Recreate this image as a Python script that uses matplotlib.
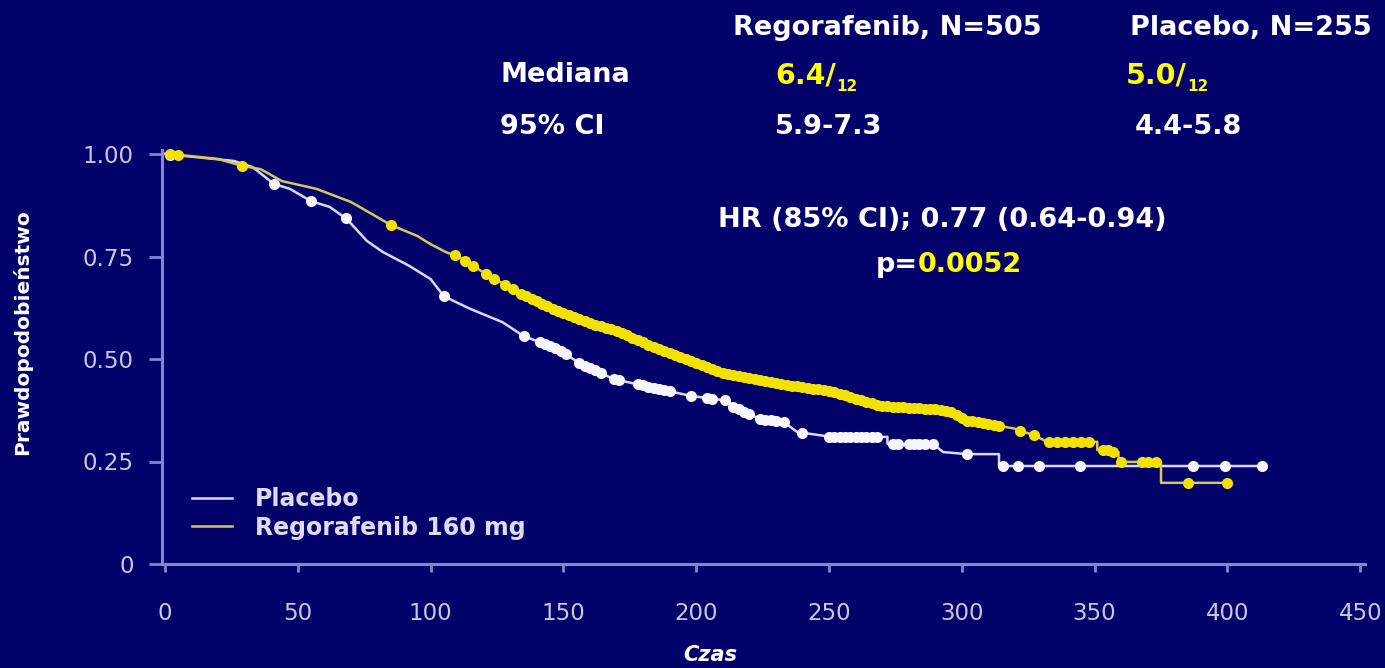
import numpy as np
import matplotlib
matplotlib.use("Agg")
import matplotlib.pyplot as plt

# ---------------- data ----------------
rego_t = [0, 5, 20, 29, 36, 44, 57, 70, 85, 95, 100, 106, 110, 121, 134, 146, 159,
          171, 184, 197, 210, 214, 227, 239, 251, 258, 270, 289, 296, 302, 307, 314,
          320, 328, 332, 351, 351, 356, 356, 359, 359, 375, 375, 400]
rego_s = [1.0, 0.998, 0.988, 0.971, 0.963, 0.934, 0.915, 0.883, 0.827, 0.80, 0.78, 0.76,
          0.751, 0.707, 0.659, 0.622, 0.59, 0.566, 0.529, 0.497, 0.466, 0.46, 0.444,
          0.432, 0.422, 0.407, 0.385, 0.378, 0.371, 0.349, 0.346, 0.337, 0.33, 0.312,
          0.298, 0.298, 0.278, 0.278, 0.273, 0.273, 0.249, 0.249, 0.198, 0.198]

plac_t = [0, 26, 33, 41, 47, 55, 62, 68.5, 76, 82, 92, 100, 105, 115, 127, 135, 148,
          156, 169, 181, 198, 212, 214, 224, 233, 238, 251, 272, 272, 289, 293, 302,
          314, 314, 413]
plac_s = [1.0, 0.983, 0.968, 0.927, 0.915, 0.885, 0.871, 0.841, 0.788, 0.761, 0.727,
          0.695, 0.653, 0.622, 0.59, 0.556, 0.524, 0.49, 0.451, 0.434, 0.41, 0.398,
          0.383, 0.354, 0.346, 0.322, 0.31, 0.31, 0.293, 0.293, 0.273, 0.268, 0.268,
          0.239, 0.239]

rego_cens = [2, 5, 29, 85, 109, 113, 116, 121, 124, 128, 131, 134, 136, 138, 140, 142,
             144, 146, 148, 150, 152, 154, 156, 158, 160, 162, 164, 166, 168, 170, 172,
             174, 176, 178, 180, 182, 184, 186, 188, 190, 192, 194, 196, 198, 200, 202,
             204, 206, 208, 210, 212, 214, 216, 218, 220, 222, 224, 226, 228, 230, 232,
             234, 236, 238, 240, 242, 244, 246, 248, 250, 252, 254, 256, 258, 260, 262,
             264, 266, 268, 270, 272, 274, 276, 278, 280, 282, 284, 286, 288, 290, 292,
             294, 296, 298, 300, 302, 304, 306, 308, 310, 312, 314, 322, 327, 333, 336,
             339, 342, 345, 348, 353, 355, 357, 360, 368, 370, 373, 385, 400]
plac_cens = [2, 41, 55, 68, 105, 135, 141, 143, 145, 147, 149, 151, 156, 158, 160, 162,
             164, 169, 171, 178, 180, 182, 184, 186, 188, 190, 198, 204, 206, 211, 214,
             216, 218, 220, 224, 226, 228, 230, 233, 240, 250, 252, 254, 256, 258, 260,
             262, 264, 266, 268, 274, 276, 280, 282, 284, 286, 289, 302, 315.5, 321, 329,
             344.5, 387, 399, 413]

x_ticks = [0, 50, 100, 150, 200, 250, 300, 350, 400, 450]
y_ticks = [0, 0.25, 0.50, 0.75, 1.00]
y_tick_labels = ["0", "0.25", "0.50", "0.75", "1.00"]
legend_labels = ["Placebo", "Regorafenib 160 mg"]

# ---------------- style ----------------
BG = "#03026b"
AXC = "#8585d0"
TICKC = "#c8c8dc"
YEL_LINE = "#d6c85a"
YEL_DOT = "#f2e200"
WHT_LINE = "#d8d8f8"
WHT_DOT = "#f6f6ff"
YEL_TXT = "#ffff00"

W, H = 1385, 668
fig = plt.figure(figsize=(W / 100, H / 100), dpi=100, facecolor=BG)


def P(x, y):
    return (x / W, 1 - y / H)


ax = fig.add_axes([162 / W, (H - 564) / H, 1203 / W, 414.1 / H])
ax.set_facecolor(BG)
ax.set_xlim(-1.13, 451.8)
ax.set_ylim(0, 1.01)

for s in ["top", "right"]:
    ax.spines[s].set_visible(False)
for s in ["left", "bottom"]:
    ax.spines[s].set_color(AXC)
    ax.spines[s].set_linewidth(2.2)

ax.set_xticks(x_ticks)
ax.set_xticklabels([str(v) for v in x_ticks])
ax.set_yticks(y_ticks)
ax.set_yticklabels(y_tick_labels)
ax.tick_params(axis="x", colors=AXC, length=6, width=2, pad=21,
               labelcolor=TICKC, labelsize=16.5)
ax.tick_params(axis="y", colors=AXC, length=9.5, width=2, pad=11,
               labelcolor=TICKC, labelsize=16.5)

lp, = ax.plot(plac_t, plac_s, color=WHT_LINE, lw=1.8, label=legend_labels[0],
              clip_on=False)
lr, = ax.plot(rego_t, rego_s, color=YEL_LINE, lw=1.8, label=legend_labels[1],
              clip_on=False)

pc_y = np.interp(plac_cens, plac_t, plac_s)
rc_y = np.interp(rego_cens, rego_t, rego_s)
ax.plot(plac_cens, pc_y, "o", color=WHT_DOT, ms=8, mew=0, clip_on=False)
ax.plot(rego_cens, rc_y, "o", color=YEL_DOT, ms=8, mew=0, clip_on=False)

leg = ax.legend(handles=[lp, lr], loc="upper left",
                bbox_to_anchor=P(192, 487), bbox_transform=fig.transFigure,
                frameon=False, fontsize=17, handlelength=1.7, handletextpad=0.95,
                labelspacing=0.2, borderpad=0, borderaxespad=0)
for t in leg.get_texts():
    t.set_color("#dcdcec")
    t.set_fontweight("bold")

# ---------------- texts ----------------
tk = dict(color="white", fontweight="bold", fontsize=19.5, va="center")
fig.text(*P(733, 28), "Regorafenib, N=505", ha="left", **tk)
fig.text(*P(1130, 28), "Placebo, N=255", ha="left", **tk)
fig.text(*P(500, 75), "Mediana", ha="left", **tk)
fig.text(*P(500, 127), "95% CI", ha="left", **tk)
fig.text(*P(775, 127), "5.9-7.3", ha="left", **tk)
fig.text(*P(1135, 127), "4.4-5.8", ha="left", **tk)

for x0, val in [(775, "6.4/"), (1126, "5.0/")]:
    t = fig.text(*P(x0, 75), val, ha="left", color=YEL_TXT, fontweight="bold",
                 fontsize=20.5, va="center")
    ax.annotate("12", xy=(1, 0), xycoords=t, xytext=(0.5, 1.5),
                textcoords="offset points", ha="left", va="center",
                color=YEL_TXT, fontweight="bold", fontsize=11,
                annotation_clip=False)

fig.text(*P(942, 220), "HR (85% CI); 0.77 (0.64-0.94)", ha="center", **tk)
fig.text(*P(918, 265), "p=", ha="right", **tk)
fig.text(*P(918, 265), "0.0052", ha="left", color=YEL_TXT, fontweight="bold",
         fontsize=19.5, va="center")

fig.text(*P(22, 332), "Prawdopodobieństwo", rotation=90, ha="center", va="center",
         color="white", fontweight="bold", fontsize=14.5)
fig.text(*P(710, 655), "Czas", ha="center", va="center", color="white",
         fontweight="bold", fontstyle="italic", fontsize=15)

fig.savefig("out.png", dpi=100, facecolor=BG)
